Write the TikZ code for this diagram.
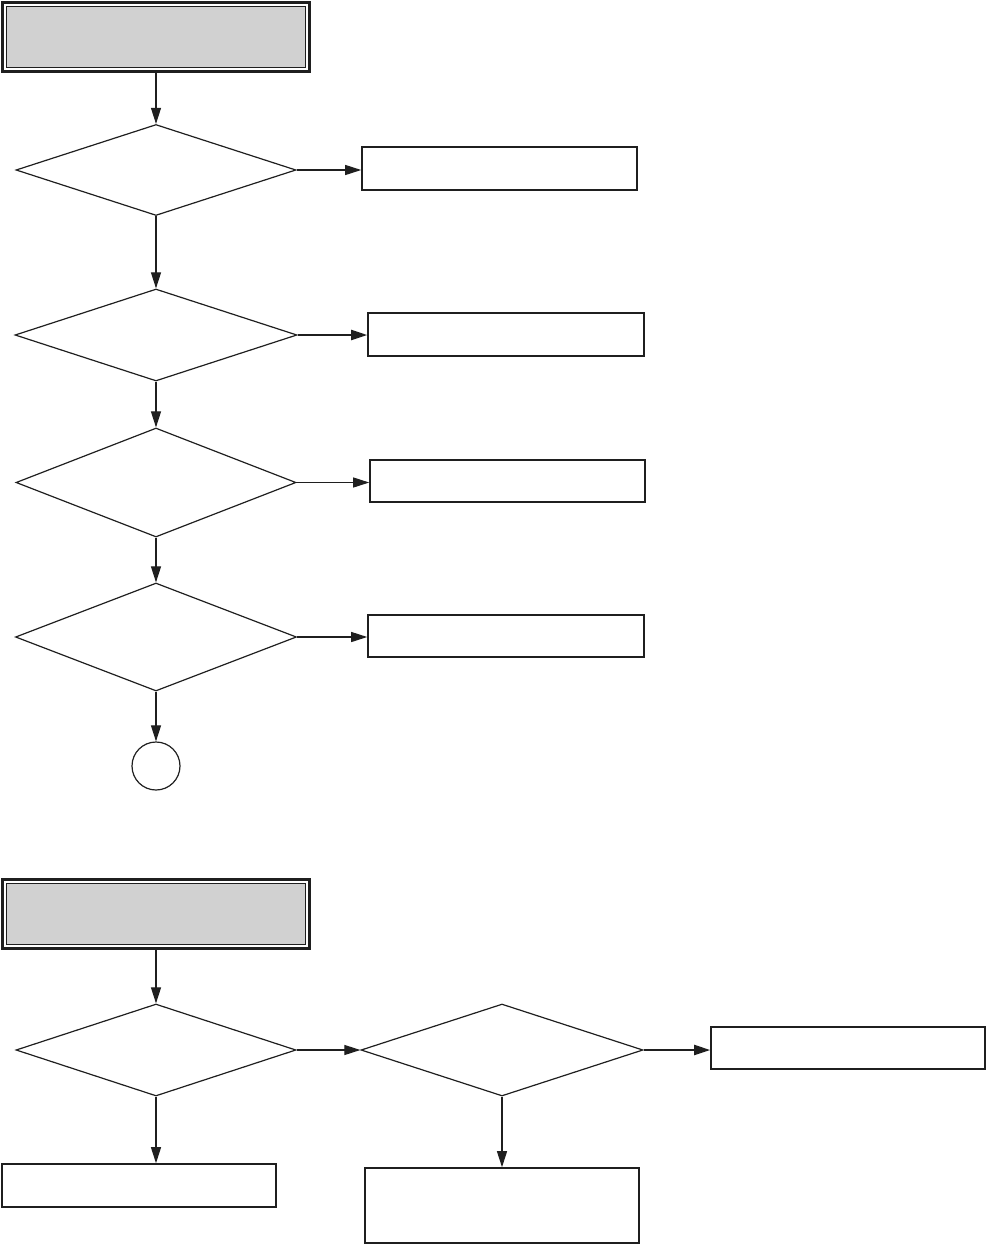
\documentclass[tikz,border=0pt]{standalone}
\usetikzlibrary{shapes.geometric,arrows.meta}
\begin{document}
\begin{tikzpicture}[x=1pt,y=-1pt,
  dia/.style={diamond, draw=black!88, line width=1.2pt, inner sep=0pt, minimum width=280pt},
  box/.style={rectangle, draw=black!88, line width=1.6pt, inner sep=0pt, minimum width=275pt, minimum height=43pt},
  hdrout/.style={rectangle, draw=black!88, line width=3.2pt, inner sep=0pt, minimum width=307pt, minimum height=69pt},
  hdrin/.style={rectangle, draw=black!88, fill=black!18, line width=1pt, inner sep=0pt, minimum width=299pt, minimum height=61pt},
  arr/.style={draw=black!88, line width=1.1pt, -{Triangle[length=16pt,width=10pt]}},
  tarr/.style={arr, line width=2pt},
  conn/.style={circle, draw=black!88, line width=1.2pt, inner sep=0pt, minimum size=48pt}]
\useasboundingbox (0,0) rectangle (987,1245);
% first chart
\node[hdrout] (h1) at (156,37) {};
\node[hdrin] (h1i) at (156,37) {};
\node[dia, minimum height=91pt] (d1) at (156,170) {};
\node[dia, minimum height=92pt, minimum width=282pt] (d2) at (156,335) {};
\node[dia, minimum height=109pt] (d3) at (156,482.5) {};
\node[dia, minimum height=108pt, minimum width=281pt] (d4) at (156,637) {};
\node[conn] (c1) at (156,766) {};
\node[box] (r1) at (499.5,168.5) {};
\node[box, minimum width=276pt] (r2) at (506,334.5) {};
\node[box, minimum height=42pt] (r3) at (507.5,481) {};
\node[box, minimum width=276pt, minimum height=42pt] (r4) at (506,636) {};
\draw[arr] (h1.south) -- (d1.north);
\draw[arr] (d1.south) -- (d2.north);
\draw[arr] (d2.south) -- (d3.north);
\draw[arr] (d3.south) -- (d4.north);
\draw[arr] (d4.south) -- (c1.north);
\draw[arr] (d1.east) -- (d1.east -| r1.west);
\draw[tarr] (d2.east) -- (d2.east -| r2.west);
\draw[arr] (d3.east) -- (d3.east -| r3.west);
\draw[arr] (d4.east) -- (d4.east -| r4.west);
% second chart
\node[hdrout] (h2) at (156,914) {};
\node[hdrin] (h2i) at (156,914) {};
\node[dia, minimum height=92pt] (d5) at (156,1050) {};
\node[dia, minimum height=92pt, minimum width=282pt] (d6) at (502,1050) {};
\node[box, minimum width=274pt] (r5) at (139,1185.5) {};
\node[box, minimum width=274pt, minimum height=42pt] (r6) at (848,1048) {};
\node[box, minimum width=274pt, minimum height=75pt] (r7) at (502,1205.5) {};
\draw[arr] (h2.south) -- (d5.north);
\draw[arr] (d5.south) -- (d5.south |- r5.north);
\draw[arr] (d5.east) -- (d6.west);
\draw[tarr] (d6.east) -- (d6.east -| r6.west);
\draw[arr] (d6.south) -- (d6.south |- r7.north);
\end{tikzpicture}
\end{document}
